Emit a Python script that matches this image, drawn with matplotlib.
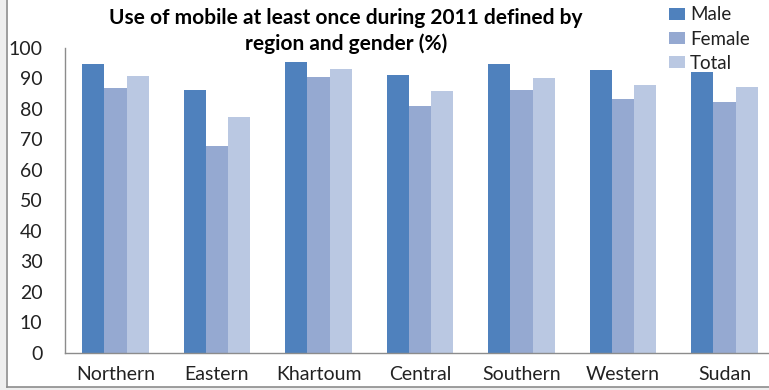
import matplotlib
matplotlib.use("Agg")
import matplotlib.pyplot as plt
import numpy as np
from matplotlib.patches import Rectangle
from matplotlib.lines import Line2D

regions = ["Northern", "Eastern", "Khartoum", "Central", "Southern", "Western", "Sudan"]
male = [94.7, 86.2, 95.4, 91.1, 94.7, 92.8, 92.0]
female = [86.8, 67.7, 90.5, 81.1, 86.2, 83.4, 82.2]
total = [90.8, 77.4, 93.1, 85.8, 90.1, 88.0, 87.1]
series_names = ["Male", "Female", "Total"]
colors = ["#4F81BD", "#95A9D1", "#BAC8E2"]
yticks = [0, 10, 20, 30, 40, 50, 60, 70, 80, 90, 100]

plt.rcParams['font.family'] = ['Lato', 'DejaVu Sans']

W, H = 769, 390
fig = plt.figure(figsize=(W/100, H/100), dpi=100)
fig.patch.set_facecolor("white")

# outer frame shading / border
fig.patches.append(Rectangle((0, 0), 6/W, 1, transform=fig.transFigure, facecolor="#EEEEEE", edgecolor="none", zorder=0))
fig.patches.append(Rectangle((0, 0), 1, 3/H, transform=fig.transFigure, facecolor="#EEEEEE", edgecolor="none", zorder=0))
fig.lines.append(Line2D([6.5/W, 6.5/W], [3/H, 1], transform=fig.transFigure, color="#8C8C8C", lw=1.2))
fig.lines.append(Line2D([6.5/W, 1], [3/H, 3/H], transform=fig.transFigure, color="#8C8C8C", lw=1.2))

left_px, right_px = 64.75, 775.25
bottom_px, top_px = 352.5, 48
ax = fig.add_axes([left_px/W, (H-bottom_px)/H, (right_px-left_px)/W, (bottom_px-top_px)/H])

x = np.arange(len(regions))
bw = 0.22
for i, (vals, name, c) in enumerate(zip([male, female, total], series_names, colors)):
    ax.bar(x + (i-1)*bw, vals, width=bw, color=c, label=name, zorder=2)

ax.set_xlim(-0.5, len(regions)-0.5)
ax.set_ylim(0, 100)
ax.set_yticks(yticks)
ax.set_yticklabels([str(t) for t in yticks], fontsize=14, color="#222222")
ax.set_xticks(x)
ax.set_xticklabels(regions, fontsize=14, color="#222222")
ax.tick_params(axis='y', length=0, pad=16)
ax.tick_params(axis='x', length=0, pad=10)
for s in ["top", "right"]:
    ax.spines[s].set_visible(False)
ax.spines["left"].set_color("#8C8C8C")
ax.spines["bottom"].set_color("#8C8C8C")
ax.spines["left"].set_linewidth(1.0)
ax.spines["bottom"].set_linewidth(1.0)

fig.text(346/W, 1-31/H, "Use of mobile at least once during 2011 defined by\nregion and gender (%)",
         ha="center", va="center", fontsize=15, fontweight="bold", linespacing=1.3, color="black")

leg = fig.legend(loc="upper left", bbox_to_anchor=(661/W, 1+1/H), frameon=False, fontsize=13.5,
                 handlelength=0.9, handleheight=0.65, handletextpad=0.25, labelspacing=0.38,
                 borderaxespad=0)
for t in leg.get_texts():
    t.set_color("#222222")

fig.savefig("out.png", dpi=100)
